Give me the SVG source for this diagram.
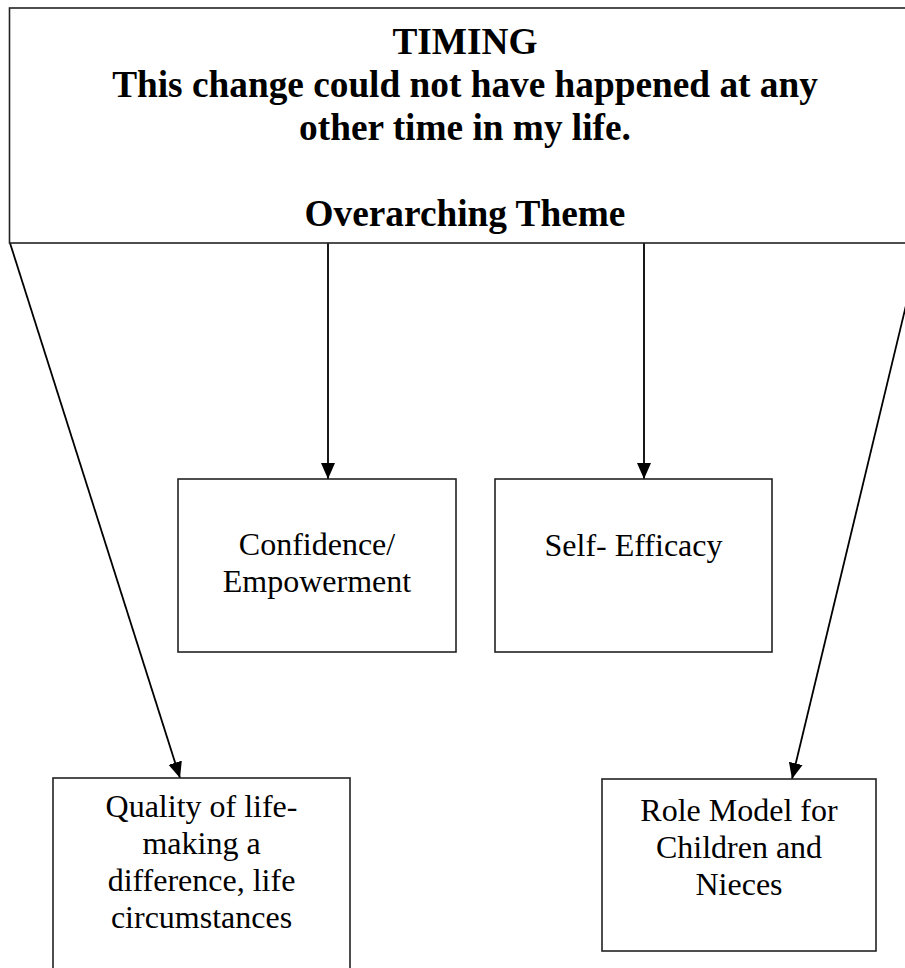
<svg xmlns="http://www.w3.org/2000/svg" width="905" height="968" viewBox="0 0 905 968">
<style>
.box{fill:#fff;stroke:#222;stroke-width:1.6}
.title{font-family:"Liberation Serif","Times New Roman",serif;font-weight:bold;font-size:37.3px;fill:#000;text-anchor:middle}
.body{font-family:"Liberation Serif","Times New Roman",serif;font-size:32px;fill:#000;text-anchor:middle}
.conn{stroke:#000;stroke-width:1.8;fill:none;marker-end:url(#arrow)}
</style>
<defs>
<marker id="arrow" markerUnits="userSpaceOnUse" markerWidth="17" markerHeight="15" refX="16" refY="7.5" orient="auto">
<path d="M0,0.5 L16,7.5 L0,14.5 z" fill="#000"/>
</marker>
</defs>
<rect width="905" height="968" fill="#fff"/>
<g id="connectors">
<line class="conn" x1="10" y1="243" x2="180" y2="778"/>
<line class="conn" x1="328" y1="243" x2="328" y2="479"/>
<line class="conn" x1="644" y1="243" x2="644" y2="479"/>
<line class="conn" x1="921" y1="243" x2="792" y2="779"/>
</g>
<g id="timing">
<rect class="box" x="9.5" y="8" width="912" height="235"/>
<text class="title" x="465" y="54">TIMING</text>
<text class="title" x="465" y="97">This change could not have happened at any</text>
<text class="title" x="465" y="140">other time in my life.</text>
<text class="title" x="465" y="226">Overarching Theme</text>
</g>
<g id="confidence">
<rect class="box" x="178" y="479" width="278" height="173"/>
<text class="body" x="317" y="555">Confidence/</text>
<text class="body" x="317" y="592">Empowerment</text>
</g>
<g id="selfefficacy">
<rect class="box" x="495" y="479" width="277" height="173"/>
<text class="body" x="633.5" y="556">Self- Efficacy</text>
</g>
<g id="quality">
<rect class="box" x="53" y="778" width="297" height="200"/>
<text class="body" x="201.5" y="817">Quality of life-</text>
<text class="body" x="201.5" y="854">making a</text>
<text class="body" x="201.5" y="891">difference, life</text>
<text class="body" x="201.5" y="928">circumstances</text>
</g>
<g id="rolemodel">
<rect class="box" x="602" y="779" width="274" height="172"/>
<text class="body" x="739" y="821">Role Model for</text>
<text class="body" x="739" y="858">Children and</text>
<text class="body" x="739" y="895">Nieces</text>
</g>
</svg>
